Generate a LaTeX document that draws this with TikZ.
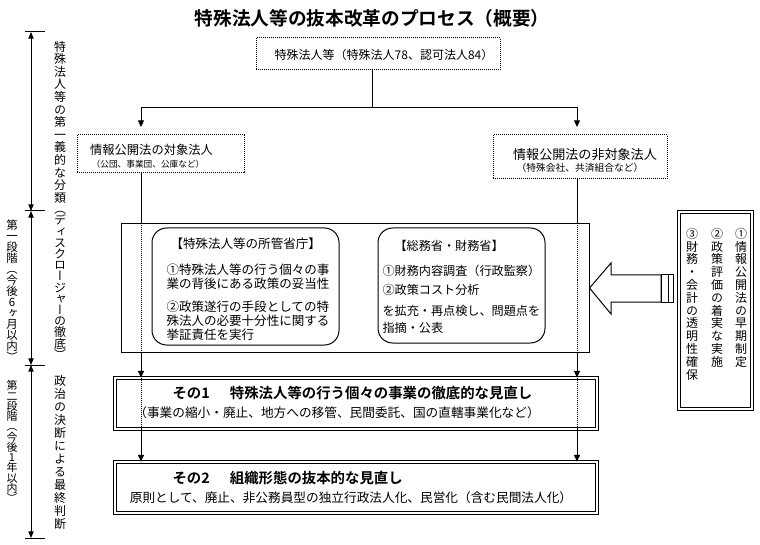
\documentclass[tikz,border=0pt]{standalone}
\usepackage{fontspec}
\setmainfont{Noto Sans CJK JP}[BoldFont={Noto Sans CJK JP Bold}]
\newfontfamily\vjp{Noto Sans CJK JP}[RawFeature=+vert]
\usetikzlibrary{arrows.meta}
\makeatletter
\newcommand\vt[2]{\vbox{\baselineskip=#1\lineskiplimit=-100pt\lineskip=0pt\vt@aux#2\relax}}
\def\vt@aux#1{\ifx\relax#1\else\vt@box{#1}\expandafter\vt@aux\fi}
\def\vt@box#1{\hbox to 1em{\hss#1\hss}}
\makeatother
\begin{document}
\begin{tikzpicture}[x=0.75pt,y=-0.75pt,line width=0.75pt,
  dotbox/.style={draw,dash pattern=on 0.75pt off 0.75pt,inner sep=0pt},
  solidbox/.style={draw,inner sep=0pt},
  dblbox/.style={draw,double,double distance=1.4pt,line width=0.6pt,inner sep=0pt},
  roundbox/.style={draw,rounded corners=11pt,inner sep=0pt},
  txt/.style={inner sep=0pt,font=\fontsize{9.4}{11}\selectfont},
  smalltxt/.style={inner sep=0pt,font=\fontsize{#1}{#1}\selectfont},
  boldtxt/.style={inner sep=0pt,font=\bfseries\fontsize{10.8}{12}\selectfont},
  vlab/.style={inner sep=0pt,anchor=north,font=\vjp\fontsize{#1}{#1}\selectfont},
  arr/.style={-{Triangle[width=4.5pt,length=5pt]}},
  tarr/.style={{Triangle[width=4pt,length=5pt]}-{Triangle[width=4pt,length=5pt]}},
  dotline/.style={dash pattern=on 0.75pt off 0.75pt}]
\useasboundingbox (0,0) rectangle (760,545);
\fill[white] (0,0) rectangle (760,545);

% title
\node[inner sep=0pt,font=\bfseries\fontsize{14}{16}\selectfont] (title) at (372,18) {特殊法人等の抜本改革のプロセス（概要）};

% top box
\node[dotbox,minimum width=183pt,minimum height=24pt] (top) at (378,54) {};
\node[txt,font=\fontsize{9}{11}\selectfont] (toptxt) at (384,55) {特殊法人等（特殊法人78、認可法人84）};

% second row boxes
\node[dotbox,minimum width=125.25pt,minimum height=28.5pt] (lbox) at (160.5,154) {};
\node[txt,font=\fontsize{9.2}{11}\selectfont] (lboxa) at (151.5,150) {情報公開法の対象法人};
\node[smalltxt=6.5] (lboxb) at (148,164) {（公団、事業団、公庫など）};

\node[dotbox,minimum width=130.5pt,minimum height=33pt] (rbox) at (580,157) {};
\node[txt,font=\fontsize{9.8}{11}\selectfont] (rboxa) at (585,155) {情報公開法の非対象法人};
\node[smalltxt=7.3] (rboxb) at (580,168) {（特殊会社、共済組合など）};

% big box
\node[solidbox,minimum width=351pt,minimum height=96pt] (big) at (355,288) {};

% left rounded box
\node[roundbox,minimum width=140.25pt,minimum height=87.75pt] (lr) at (245.5,286.5) {};
\node[txt,anchor=west] (lr1) at (170,244) {【特殊法人等の所管省庁】};
\node[txt,anchor=west] (lr2) at (166,270) {①特殊法人等の行う個々の事};
\node[txt,anchor=west] (lr3) at (166,284) {業の背後にある政策の妥当性};
\node[txt,anchor=west] (lr4) at (166,307) {②政策遂行の手段としての特};
\node[txt,anchor=west] (lr5) at (166,321) {殊法人の必要十分性に関する};
\node[txt,anchor=west] (lr6) at (166,335) {挙証責任を実行};

% right rounded box
\node[roundbox,minimum width=125.25pt,minimum height=86.25pt] (rr) at (461.5,285.5) {};
\node[txt,font=\fontsize{9.1}{11}\selectfont,anchor=west] (rr1) at (394,246) {【総務省・財務省】};
\node[txt,font=\fontsize{9.1}{11}\selectfont,anchor=west] (rr2) at (382,271) {①財務内容調査（行政監察）};
\node[txt,font=\fontsize{9.1}{11}\selectfont,anchor=west] (rr3) at (382,290) {②政策コスト分析};
\node[txt,font=\fontsize{9.1}{11}\selectfont,anchor=west] (rr4) at (382,311) {を拡充・再点検し、問題点を};
\node[txt,font=\fontsize{9.1}{11}\selectfont,anchor=west] (rr5) at (382,328) {指摘・公表};

% big left arrow
\coordinate (tipy) at (0,288);
\draw (big.east |- tipy) -- (611,263) -- (611,275) -- (661,275) -- (661,302) -- (611,302) -- (611,314) -- cycle;
\draw (661,275) rectangle (668,302);
\draw (668,275) rectangle (673,302);

% right vertical box
\node[dblbox,minimum width=54.75pt,minimum height=147.75pt] (side) at (715.5,310.5) {};
\node[vlab=9] (side1) at (741,227.6) {\vt{9.6pt}{①情報公開法の早期制定}};
\node[vlab=9] (side2) at (717,227.6) {\vt{9.6pt}{②政策評価の着実な実施}};
\node[vlab=9] (side3) at (692,227.6) {\vt{9.6pt}{③財務・会計の透明性確保}};

% result boxes
\node[dblbox,minimum width=361.5pt,minimum height=38.25pt] (box1) at (356,403.5) {};
\node[boldtxt,anchor=west] (box1a) at (172,393) {その1\hspace{1.4em}特殊法人等の行う個々の事業の徹底的な見直し};
\node[txt,font=\fontsize{9.5}{11}\selectfont] (box1b) at (337,413) {（事業の縮小・廃止、地方への移管、民間委託、国の直轄事業化など）};

\node[dblbox,minimum width=361.5pt,minimum height=38.25pt] (box2) at (356,487.5) {};
\node[boldtxt,anchor=west] (box2a) at (172,478) {その2\hspace{1.4em}組織形態の抜本的な見直し};
\node[txt,font=\fontsize{9.5}{11}\selectfont] (box2b) at (351,498) {原則として、廃止、非公務員型の独立行政法人化、民営化（含む民間法人化）};

% connectors
\coordinate (split) at (372,108);
\coordinate (la) at (141,127);
\coordinate (ra) at (577,127);
\draw (top.south -| split) -- (split);
\draw[arr] (split) -| (la);
\draw[arr] (split) -| (ra);

\draw (lbox.south -| la) -- (big.north -| la);
\draw[dotline] (big.north -| la) -- (big.south -| la);
\draw[arr] (big.south -| la) -- (box1.north -| la);
\draw[dotline] (box1.north -| la) -- (box1.south -| la);
\draw[arr] (box1.south -| la) -- (box2.north -| la);

\draw (rbox.south -| ra) -- (big.north -| ra);
\draw[dotline] (big.north -| ra) -- (big.south -| ra);
\draw[arr] (big.south -| ra) -- (box1.north -| ra);
\draw[dotline] (box1.north -| ra) -- (box1.south -| ra);
\draw[arr] (box1.south -| ra) -- (box2.north -| ra);

% timeline
\coordinate (t0) at (31,32);
\coordinate (t1) at (31,211);
\coordinate (t2) at (31,365);
\coordinate (t3) at (31,538);
\foreach \t in {t0,t1,t2,t3} \draw ([xshift=-4.5pt]\t) -- ([xshift=10.5pt]\t);
\draw[tarr] (t0) -- (t1);
\draw[tarr] (t1) -- (t2);
\draw[tarr] (t2) -- (t3);

% vertical labels
\node[vlab=9] (va) at (60,40.5) {\vt{9.45pt}{特殊法人等の第一義的な分類}};
\node[vlab=9] (vb) at (60,211) {\vt{8.4pt}{（ディスクロージャーの徹底）}};
\node[vlab=9] (vc) at (60,374.6) {\vt{9.75pt}{政治の決断による最終判断}};
\node[vlab=8.6] (vd) at (12,219.5) {\vt{8.25pt}{第一段階（今後6ヶ月以内）}};
\node[vlab=8.2] (ve) at (12,380) {\vt{7.7pt}{第二段階（今後1年以内）}};
\end{tikzpicture}
\end{document}
